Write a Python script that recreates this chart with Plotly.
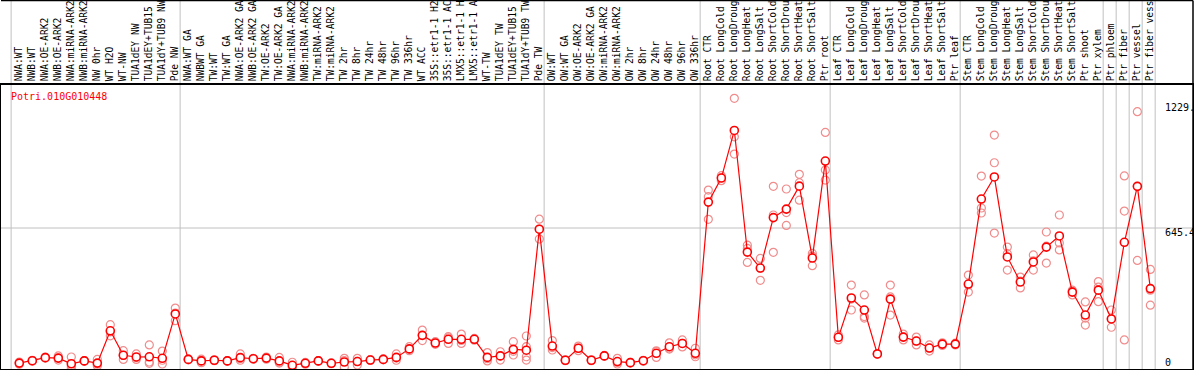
import plotly.graph_objects as go

labels = [
    "NWA:WT", "NWB:WT", "NWA:OE-ARK2", "NWB:OE-ARK2", "NWA:miRNA-ARK2", "NWB:miRNA-ARK2",
    "NW 0hr", "WT H2O", "WT-NW", "TUA1dEY NW", "TUA1dEY+TUB15", "TUA1dY+TUB9 NW", "Pde NW",
    "NWA:WT GA", "NWBWT GA", "TW:WT", "TW:WT GA", "NWA:OE-ARK2 GA", "NWB:OE-ARK2 GA",
    "TW:OE-ARK2", "TW:OE-ARK2 GA", "NWA:miRNA-ARK2", "NWB:miRNA-ARK2", "TW:miRNA-ARK2",
    "TW:miRNA-ARK2", "TW 2hr", "TW 8hr", "TW 24hr", "TW 48hr", "TW 96hr", "TW 336hr",
    "WT ACC", "35S::etr1-1 H2", "35S::etr1-1 AC", "LMX5::etr1-1 H", "LMX5::etr1-1 A",
    "WT-TW", "TUA1dEY TW", "TUA1dEY+TUB15", "TUA1dY+TUB9 TW", "Pde TW",
    "OW:WT", "OW:WT GA", "OW:OE-ARK2", "OW:OE-ARK2 GA", "OW:miRNA-ARK2", "OW:miRNA-ARK2",
    "OW 2hr", "OW 8hr", "OW 24hr", "OW 48hr", "OW 96hr", "OW 336hr",
    "Root CTR", "Root LongCold", "Root LongDroug", "Root LongHeat", "Root LongSalt",
    "Root ShortCold", "Root ShortDrou", "Root ShortHeat", "Root ShortSalt", "Ptr root",
    "Leaf CTR", "Leaf LongCold", "Leaf LongDroug", "Leaf LongHeat", "Leaf LongSalt",
    "Leaf ShortCold", "Leaf ShortDrou", "Leaf ShortHeat", "Leaf ShortSalt", "Ptr leaf",
    "Stem CTR", "Stem LongCold", "Stem LongDroug", "Stem LongHeat", "Stem LongSalt",
    "Stem ShortCold", "Stem ShortDrou", "Stem ShortHeat", "Stem ShortSalt", "Ptr shoot",
    "Ptr xylem", "Ptr phloem", "Ptr fiber", "Ptr vessel", "Ptr fiber vess",
]

means = [
    27, 38, 52, 50, 24, 37, 27, 175, 63, 55, 56, 49, 252,
    44, 37, 40, 37, 52, 47, 50, 37, 17, 26, 37, 26, 32, 34, 41, 44, 53, 92,
    154, 119, 136, 136, 136, 53, 60, 90, 86, 640,
    105, 40, 95, 40, 60, 34, 29, 38, 72, 102, 117, 72,
    764, 874, 1092, 535, 462, 693, 732, 837, 508, 952,
    145, 325, 270, 69, 320, 146, 128, 96, 114, 114,
    389, 778, 879, 513, 398, 490, 558, 609, 352, 247, 361,
    229, 580, 836, 368,
]

replicates = [
    [22, 27, 32], [38, 36, 40], [52, 50, 55], [60, 50, 41], [55, 14, 3], [37, 35, 39],
    [44, 22, 14], [203, 170, 152], [84, 62, 44], [69, 52, 44], [110, 32, 26], [82, 40, 23],
    [279, 256, 221],
    [44, 42, 46], [45, 37, 29], [40, 42, 38], [37, 35, 39], [69, 47, 40], [47, 45, 49],
    [50, 55, 45], [53, 31, 27], [31, 12, 8], [26, 30, 22], [37, 35, 39], [26, 24, 28],
    [49, 39, 8], [49, 35, 18], [41, 39, 43], [44, 42, 46], [69, 50, 40], [102, 90, 84],
    [178, 154, 130], [125, 119, 113], [148, 143, 117], [160, 131, 117], [136, 140, 132],
    [75, 47, 37], [79, 60, 41], [125, 81, 64], [151, 102, 56, 41], [686, 640, 595],
    [130, 98, 87], [40, 38, 42], [105, 96, 84], [40, 38, 42], [60, 62, 58], [49, 30, 23],
    [29, 27, 31], [38, 36, 40], [80, 83, 53], [120, 95, 91], [133, 117, 101], [95, 65, 56],
    [819, 789, 685], [885, 875, 862], [1239, 1063, 984], [567, 552, 488], [506, 461, 406],
    [836, 705, 534], [824, 716, 657], [891, 853, 773], [529, 517, 473], [1083, 911, 865],
    [156, 145, 133], [384, 320, 270], [339, 240, 233], [69, 67, 71], [384, 330, 247],
    [160, 146, 133], [146, 128, 110], [110, 96, 82], [120, 114, 108], [118, 114, 110],
    [430, 385, 352], [883, 737, 714], [1071, 944, 622], [558, 528, 453], [421, 402, 371],
    [522, 495, 453], [627, 562, 485], [705, 577, 545], [361, 355, 339], [307, 233, 201],
    [400, 375, 308], [270, 229, 191], [884, 723, 133], [1178, 836, 497], [456, 361, 292],
]

title_text = "Potri.010G010448"
ytick_values = [0, 645.4, 1229]
ytick_text = ["0", "645.4", "1229."]
group_starts = [0, 13, 41, 53, 63, 73, 84, 85, 86, 87, 88]

W, H = 1194, 370
ML, MR, MT, MB = 1, 1, 85, 1
XMIN, XMAX = -1.408, 90.28
YMAX = 1300

FONT = "DejaVu Sans Mono"
RED = "#ff0000"
PINK = "#f08c8c"
GRID = "#c0c0c0"

x_idx = list(range(len(labels)))
rx, ry = [], []
for i, reps in enumerate(replicates):
    for v in reps:
        rx.append(i)
        ry.append(v)

fig = go.Figure()
fig.add_trace(go.Scatter(
    x=rx, y=ry, mode="markers",
    marker=dict(symbol="circle-open", size=8, color=PINK, line=dict(width=1.2, color=PINK)),
    hoverinfo="skip", showlegend=False, cliponaxis=False,
))
fig.add_trace(go.Scatter(
    x=x_idx, y=means, mode="lines+markers",
    line=dict(color=RED, width=1.2),
    marker=dict(symbol="circle", size=8, color="white", line=dict(width=1.6, color=RED)),
    showlegend=False, cliponaxis=False,
))

plot_h = H - MT - MB
top_paper = 1 + (MT - 0.5) / plot_h
shapes = []
for k in group_starts:
    shapes.append(dict(type="line", xref="x", yref="paper", x0=k - 0.63, x1=k - 0.63,
                       y0=0, y1=top_paper, line=dict(color=GRID, width=1), layer="below"))
shapes.append(dict(type="line", xref="paper", yref="y", x0=0, x1=1, y0=645.4, y1=645.4,
                   line=dict(color=GRID, width=1), layer="below"))
# outer frame incl. label area
shapes.append(dict(type="line", xref="paper", yref="paper", x0=0, x1=1, y0=top_paper, y1=top_paper,
                   line=dict(color="black", width=1.5)))
shapes.append(dict(type="line", xref="paper", yref="paper", x0=1, x1=1, y0=0, y1=top_paper,
                   line=dict(color="black", width=1.5)))

annotations = [dict(text=title_text, xref="paper", yref="paper", x=(9 - ML) / (W - ML - MR),
                    y=1 - (97 - MT) / plot_h, xanchor="left", yanchor="middle", showarrow=False,
                    font=dict(family=FONT, size=10, color=RED))]
label_px = [362, 232, 107]
for t, py in zip(ytick_text, label_px):
    annotations.append(dict(text=t, xref="paper", yref="paper", x=(1163 - ML) / (W - ML - MR),
                            y=1 - (py - MT) / plot_h, xanchor="left", yanchor="middle",
                            showarrow=False, font=dict(family=FONT, size=10, color="black")))

fig.update_layout(
    width=W, height=H,
    margin=dict(l=ML, r=MR, t=MT, b=MB, pad=0, autoexpand=False),
    paper_bgcolor="white", plot_bgcolor="white",
    shapes=shapes, annotations=annotations,
    xaxis=dict(range=[XMIN, XMAX], tickvals=x_idx, ticktext=labels, side="top",
               tickangle=-90, tickfont=dict(family=FONT, size=9.6, color="black"),
               showgrid=False, zeroline=False, ticks="", showline=True, mirror=True,
               linecolor="black", linewidth=1.5, automargin=False),
    yaxis=dict(range=[0, YMAX], showticklabels=False, showgrid=False, zeroline=False,
               ticks="", showline=True, mirror=True, linecolor="black", linewidth=1.5,
               automargin=False),
)

fig.write_html("out.html", config={"displayModeBar": False},
               post_script="document.body.style.margin='0';document.body.style.overflow='hidden';")
